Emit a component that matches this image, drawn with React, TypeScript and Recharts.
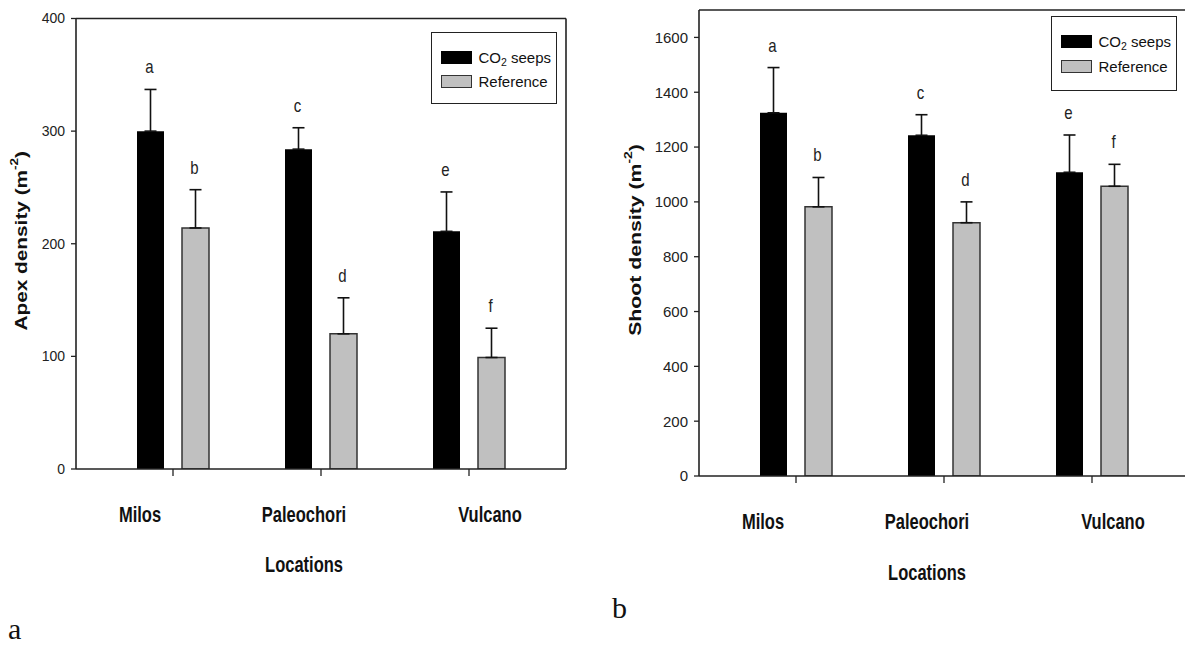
import React from 'react';
import { BarChart, Bar, XAxis, YAxis, ErrorBar, LabelList, CartesianGrid } from 'recharts';

const locations = ['Milos', 'Paleochori', 'Vulcano'];
const seriesNames = ['CO2 seeps', 'Reference'];
const seriesColors = ['#000000', '#c0c0c0'];
const seriesBorders = ['#000000', '#333333'];

const apexSeeps = [300, 284, 211];
const apexSeepsErr = [37, 19, 35];
const apexRef = [214, 120, 99];
const apexRefErr = [34, 32, 26];

const shootSeeps = [1325, 1243, 1108];
const shootSeepsErr = [165, 75, 136];
const shootRef = [982, 924, 1057];
const shootRefErr = [107, 76, 80];

const seepsLetters = ['a', 'c', 'e'];
const refLetters = ['b', 'd', 'f'];

const apexTicks = [0, 100, 200, 300, 400];
const shootTicks = [0, 200, 400, 600, 800, 1000, 1200, 1400, 1600];

const yTitles = ['Apex density', 'Shoot density'];
const xTitle = 'Locations';
const panelLabels = ['a', 'b'];

const FONT = '"Liberation Sans", Arial, sans-serif';
const AX = '#222';

function buildRows(seeps: number[], seepsErr: number[], refv: number[], refErr: number[]) {
  return locations.map((name, i) => ({
    name,
    seeps: seeps[i],
    seepsErr: [0, seepsErr[i]],
    seepsLetter: seepsLetters[i],
    refv: refv[i],
    refErr: [0, refErr[i]],
    refLetter: refLetters[i],
  }));
}

const apexRows = buildRows(apexSeeps, apexSeepsErr, apexRef, apexRefErr);
const shootRows = buildRows(shootSeeps, shootSeepsErr, shootRef, shootRefErr);

const labelOffsets = [-33, -17, 21];

const makeLetter = (vals: number[], errs: number[]) => (props: any) => {
  const vb = props.viewBox || {};
  const x = Number(props.x ?? vb.x);
  const y = Number(props.y ?? vb.y);
  const w = Number(props.width ?? vb.width);
  const h = Number(props.height ?? vb.height);
  const i = props.index;
  const v = vals[i];
  if (!v || isNaN(x)) return null;
  const pxPer = h / v;
  const top = y - errs[i] * pxPer;
  return (
    <text
      transform={`translate(${x + w / 2 - 1},${top - 22}) scale(1,1.2)`}
      textAnchor="middle"
      dominantBaseline="central"
      fontSize={15}
      fontFamily={FONT}
      fill="#222"
    >
      {props.value}
    </text>
  );
};

const makeXTick = (dy: number) => (props: any) => {
  const { x, y, payload, index } = props;
  const off = labelOffsets[index] ?? 0;
  return (
    <g>
      <text
        transform={`translate(${x + off},${y + dy}) scale(0.75,1)`}
        textAnchor="middle"
        fontSize={22}
        fontWeight="bold"
        fontFamily={FONT}
        fill="#111"
      >
        {payload.value}
      </text>
    </g>
  );
};

const makeXTitle = (dy: number) => (props: any) => {
  const vb = props.viewBox || {};
  const cx = vb.x + vb.width / 2 - 17;
  const y = vb.y + dy;
  return (
    <text
      transform={`translate(${cx},${y}) scale(0.75,1)`}
      textAnchor="middle"
      fontSize={22}
      fontWeight="bold"
      fontFamily={FONT}
      fill="#111"
    >
      {xTitle}
    </text>
  );
};

const makeYTitle = (text: string, cx: number, fontSize: number, stretch: number) => (props: any) => {
  const vb = props.viewBox || {};
  const cy = (vb.y ?? 0) + (vb.height ?? 0) / 2 - 3;
  return (
    <text
      transform={`translate(${cx},${cy}) rotate(-90) scale(${stretch},1)`}
      textAnchor="middle"
      dominantBaseline="central"
      fontSize={fontSize}
      fontWeight="bold"
      fontFamily={FONT}
      fill="#111"
    >
      {`${text} (m`}
      <tspan dy={-fontSize * 0.4} fontSize={fontSize * 0.65}>-2</tspan>
      <tspan dy={fontSize * 0.4}>)</tspan>
    </text>
  );
};

const renderName = (n: string) =>
  n.startsWith('CO2') ? (
    <>
      CO
      <sub style={{ fontSize: '0.7em', verticalAlign: '-0.3em', lineHeight: 0 }}>2</sub>
      {n.slice(3)}
    </>
  ) : (
    n
  );

const LegendBox = ({ left, top, height, rowGap }: { left: number; top: number; height: number; rowGap: number }) => (
  <div
    style={{
      position: 'absolute',
      left,
      top,
      width: 126,
      height,
      border: `1.5px solid ${AX}`,
      boxSizing: 'border-box',
      background: '#fff',
      fontFamily: FONT,
      fontSize: 15,
      color: '#111',
    }}
  >
    {seriesNames.map((n, i) => (
      <div
        key={n}
        style={{
          position: 'absolute',
          left: 8.5,
          top: 17.5 + i * rowGap,
          height: 13,
          display: 'flex',
          alignItems: 'center',
        }}
      >
        <div
          style={{
            width: 31,
            height: 13,
            boxSizing: 'border-box',
            background: seriesColors[i],
            border: `1.5px solid ${seriesBorders[i]}`,
          }}
        />
        <span style={{ marginLeft: 7, whiteSpace: 'nowrap', lineHeight: '13px' }}>{renderName(n)}</span>
      </div>
    ))}
  </div>
);

type PanelProps = {
  rows: any[];
  seeps: number[];
  seepsErr: number[];
  refVals: number[];
  refErr: number[];
  domainMax: number;
  ticks: number[];
  margin: { top: number; right: number; bottom: number; left: number };
  tickFont: number;
  yTitle: (p: any) => any;
  xTickDy: number;
  xTitleDy: number;
};

const Panel = (p: PanelProps) => (
  <BarChart width={600} height={600} data={p.rows} margin={p.margin} barGap={18}>
    <CartesianGrid
      stroke={AX}
      strokeWidth={1.6}
      strokeDasharray=""
      horizontalCoordinatesGenerator={(g: any) => [g.offset.top]}
      verticalCoordinatesGenerator={(g: any) => [g.offset.left + g.offset.width]}
    />
    <XAxis
      dataKey="name"
      padding={{ left: 23, right: 23 }}
      height={40}
      tickSize={7}
      tickMargin={2}
      interval={0}
      axisLine={{ stroke: AX, strokeWidth: 1.6 }}
      tickLine={{ stroke: AX, strokeWidth: 1.3 }}
      tick={makeXTick(p.xTickDy)}
      label={makeXTitle(p.xTitleDy)}
    />
    <YAxis
      domain={[0, p.domainMax]}
      ticks={p.ticks}
      width={60}
      tickSize={5}
      tickMargin={6}
      interval={0}
      allowDataOverflow
      axisLine={{ stroke: AX, strokeWidth: 1.6 }}
      tickLine={{ stroke: AX, strokeWidth: 1.3 }}
      tick={{ fontSize: p.tickFont, fill: '#222', fontFamily: FONT }}
      label={p.yTitle}
    />
    <Bar dataKey="seeps" name={seriesNames[0]} fill={seriesColors[0]} barSize={27} isAnimationActive={false}>
      <ErrorBar dataKey="seepsErr" width={6} stroke="#111" strokeWidth={1.6} direction="y" isAnimationActive={false} />
      <LabelList dataKey="seepsLetter" content={makeLetter(p.seeps, p.seepsErr)} />
    </Bar>
    <Bar
      dataKey="refv"
      name={seriesNames[1]}
      fill={seriesColors[1]}
      stroke={seriesBorders[1]}
      strokeWidth={1.5}
      barSize={27}
      isAnimationActive={false}
    >
      <ErrorBar dataKey="refErr" width={6} stroke="#111" strokeWidth={1.6} direction="y" isAnimationActive={false} />
      <LabelList dataKey="refLetter" content={makeLetter(p.refVals, p.refErr)} />
    </Bar>
  </BarChart>
);

export default function App() {
  return (
    <div
      style={{
        position: 'absolute',
        left: 0,
        top: 0,
        width: 1185,
        height: 645,
        overflow: 'hidden',
        background: '#fff',
        fontFamily: FONT,
      }}
    >
      <div style={{ position: 'absolute', left: 0, top: 0 }}>
        <Panel
          rows={apexRows}
          seeps={apexSeeps}
          seepsErr={apexSeepsErr}
          refVals={apexRef}
          refErr={apexRefErr}
          domainMax={400}
          ticks={apexTicks}
          margin={{ top: 18.5, right: 34, bottom: 91, left: 16 }}
          tickFont={14}
          yTitle={makeYTitle(yTitles[0], 21, 16, 1.3)}
          xTickDy={44}
          xTitleDy={103}
        />
      </div>
      <div style={{ position: 'absolute', left: 600, top: 0 }}>
        <Panel
          rows={shootRows}
          seeps={shootSeeps}
          seepsErr={shootSeepsErr}
          refVals={shootRef}
          refErr={shootRefErr}
          domainMax={1700}
          ticks={shootTicks}
          margin={{ top: 10, right: 11, bottom: 84, left: 39 }}
          tickFont={15}
          yTitle={makeYTitle(yTitles[1], 35, 17, 1.25)}
          xTickDy={44}
          xTitleDy={104}
        />
      </div>
      <LegendBox left={431} top={32} height={72} rowGap={24} />
      <LegendBox left={1051} top={16} height={75} rowGap={25.5} />
      <svg
        width={1185}
        height={645}
        style={{ position: 'absolute', left: 0, top: 0, pointerEvents: 'none' }}
      >
        <text x={8} y={639} fontSize={30} fontFamily='"Liberation Serif", "Times New Roman", serif' fill="#111">
          {panelLabels[0]}
        </text>
        <text x={612} y={618} fontSize={30} fontFamily='"Liberation Serif", "Times New Roman", serif' fill="#111">
          {panelLabels[1]}
        </text>
      </svg>
    </div>
  );
}
